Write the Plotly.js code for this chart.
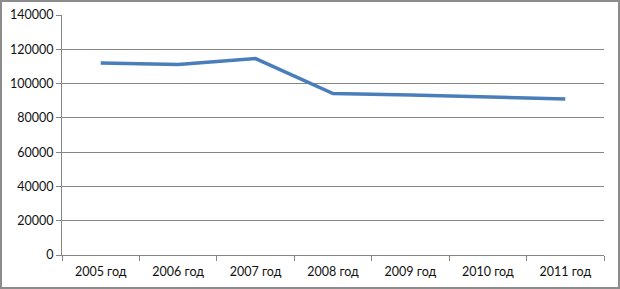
<!DOCTYPE html>
<html>
<head>
<meta charset="utf-8">
<script src="https://cdn.plot.ly/plotly-3.0.1.min.js"></script>
<style>
html,body{margin:0;padding:0;background:#fff;}
#wrap{position:relative;width:620px;height:289px;}
#chart{width:620px;height:289px;}
#frame{position:absolute;left:0;top:0;width:616px;height:285px;border:2px solid #8c8c8c;pointer-events:none;}
</style>
</head>
<body>
<div id="wrap"><div id="chart"></div><div id="frame"></div></div>
<script>
var categories = ["2005 год","2006 год","2007 год","2008 год","2009 год","2010 год","2011 год"];
var values = [112000, 111100, 114600, 94200, 93300, 91900, 91000];
var yTicks = [0,20000,40000,60000,80000,100000,120000,140000];

var trace = {
  x: categories,
  y: values,
  type: 'scatter',
  mode: 'lines',
  line: {color: '#4a7ebb', width: 3.5},
  hoverinfo: 'none'
};

var layout = {
  width: 620,
  height: 289,
  margin: {l: 62, r: 16, t: 15, b: 34},
  paper_bgcolor: '#ffffff',
  plot_bgcolor: '#ffffff',
  showlegend: false,
  font: {family: 'Lato, "Open Sans", sans-serif', size: 12.5, color: '#111111'},
  xaxis: {
    type: 'category',
    range: [-0.5, 6.5],
    showgrid: false,
    showline: true,
    linecolor: '#868686',
    linewidth: 1,
    ticks: 'outside',
    ticklen: 5,
    tickcolor: '#868686',
    tickson: 'boundaries',
    ticklabelstandoff: 5,
    tickfont: {size: 12.5, color: '#111111'},
    fixedrange: true
  },
  yaxis: {
    range: [0, 140000],
    tickvals: yTicks,
    ticktext: yTicks.map(String),
    showgrid: true,
    gridcolor: '#868686',
    gridwidth: 1,
    zeroline: false,
    showline: true,
    linecolor: '#868686',
    linewidth: 1,
    ticks: 'outside',
    ticklen: 5,
    tickcolor: '#868686',
    tickfont: {size: 12.5, color: '#111111'},
    fixedrange: true
  }
};

Plotly.newPlot('chart', [trace], layout, {displayModeBar: false, staticPlot: true});
</script>
</body>
</html>
